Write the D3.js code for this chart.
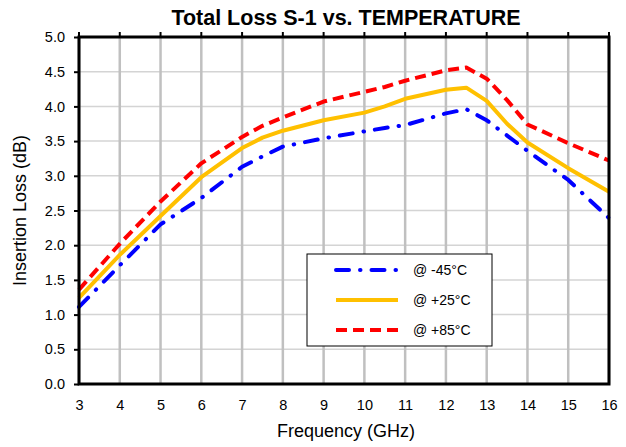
<!DOCTYPE html>
<html>
<head>
<meta charset="utf-8">
<script src="https://cdn.jsdelivr.net/npm/d3@7"></script>
<style>
  body { margin: 0; background: #fff; }
  text { font-family: "Liberation Sans", Arial, sans-serif; fill: #000; }
</style>
</head>
<body>
<div id="chart"></div>
<script>
// Chart data
const freqs = [3, 4, 5, 6, 7, 7.5, 8, 9, 10, 10.5, 11, 12, 12.5, 13, 13.5, 14, 15, 16]
const lossM45 = [1.11, 1.71, 2.30, 2.68, 3.13, 3.28, 3.42, 3.54, 3.64, 3.69, 3.73, 3.90, 3.96, 3.80, 3.58, 3.36, 2.94, 2.39]
const lossP25 = [1.24, 1.86, 2.42, 2.98, 3.40, 3.55, 3.65, 3.80, 3.91, 4.00, 4.11, 4.24, 4.27, 4.08, 3.75, 3.48, 3.11, 2.77]
const lossP85 = [1.36, 2.02, 2.63, 3.18, 3.56, 3.72, 3.84, 4.07, 4.21, 4.28, 4.37, 4.52, 4.56, 4.40, 4.09, 3.74, 3.47, 3.22]
const seriesNames = ['@ -45°C', '@ +25°C', '@ +85°C']
const xTicks = d3.range(3, 17, 1)
const yTicks = d3.range(0, 5.01, 0.5)

const width = 626
const height = 447
const margin = { top: 37, right: 17, bottom: 63, left: 79 }

const svg = d3.select('#chart')
  .append('svg')
  .attr('width', width)
  .attr('height', height)

const x = d3.scaleLinear().domain([3, 16]).range([margin.left, width - margin.right])
const y = d3.scaleLinear().domain([0, 5]).range([height - margin.bottom, margin.top])

// Gridlines
svg.append('g')
  .selectAll('line')
  .data(yTicks)
  .enter().append('line')
  .attr('x1', x(3)).attr('x2', x(16))
  .attr('y1', d => y(d)).attr('y2', d => y(d))
  .attr('stroke', '#d4d4d4')
  .attr('stroke-width', 1.5)

svg.append('g')
  .selectAll('line')
  .data(xTicks)
  .enter().append('line')
  .attr('x1', d => x(d)).attr('x2', d => x(d))
  .attr('y1', y(0)).attr('y2', y(5))
  .attr('stroke', '#c0c0c0')
  .attr('stroke-width', 2.5)

// Series
const styles = [
  { color: '#0000ff', dash: '13,11,0.5,11', cap: 'round' },
  { color: '#ffc000', dash: null, cap: 'butt' },
  { color: '#ff0000', dash: '11,6', cap: 'butt' }
]
const allSeries = [lossM45, lossP25, lossP85]
const line = d3.line()
  .x((d, i) => x(freqs[i]))
  .y(d => y(d))

allSeries.forEach((vals, k) => {
  svg.append('path')
    .datum(vals)
    .attr('d', line)
    .attr('fill', 'none')
    .attr('stroke', styles[k].color)
    .attr('stroke-width', 4)
    .attr('stroke-linecap', styles[k].cap)
    .attr('stroke-linejoin', 'round')
    .attr('stroke-dasharray', styles[k].dash)
})

// Axes frame
svg.append('rect')
  .attr('x', x(3)).attr('y', y(5))
  .attr('width', x(16) - x(3)).attr('height', y(0) - y(5))
  .attr('fill', 'none')
  .attr('stroke', '#000')
  .attr('stroke-width', 3)

// Left axis
const yAxis = svg.append('g')
  .attr('transform', `translate(${x(3)},0)`)
  .call(d3.axisLeft(y).tickValues(yTicks).tickFormat(d3.format('.1f')).tickSize(5).tickPadding(9))
yAxis.select('.domain').remove()
yAxis.selectAll('line').attr('stroke', '#000').attr('stroke-width', 2)
yAxis.selectAll('text').style('font-size', '14.5px').attr('font-family', null)

// Top ticks
svg.append('g')
  .selectAll('line')
  .data(xTicks)
  .enter().append('line')
  .attr('x1', d => x(d)).attr('x2', d => x(d))
  .attr('y1', y(5)).attr('y2', y(5) - 5)
  .attr('stroke', '#000')
  .attr('stroke-width', 2)

// Bottom labels
const xAxis = svg.append('g')
  .attr('transform', `translate(0,${y(0)})`)
  .call(d3.axisBottom(x).tickValues(xTicks).tickFormat(d3.format('d')).tickSize(0).tickPadding(16))
xAxis.select('.domain').remove()
xAxis.selectAll('text').style('font-size', '14.5px').attr('font-family', null)

// Title and axis titles
svg.append('text')
  .attr('x', 346).attr('y', 25)
  .attr('text-anchor', 'middle')
  .style('font-size', '21.5px')
  .style('font-weight', 'bold')
  .text('Total Loss S-1 vs. TEMPERATURE')

svg.append('text')
  .attr('x', 346).attr('y', 437)
  .attr('text-anchor', 'middle')
  .style('font-size', '18px')
  .text('Frequency (GHz)')

svg.append('text')
  .attr('transform', `translate(26,${(y(0) + y(5)) / 2}) rotate(-90)`)
  .attr('text-anchor', 'middle')
  .style('font-size', '18px')
  .text('Insertion Loss (dB)')

// Legend
const legend = svg.append('g').attr('transform', 'translate(307,254)')
legend.append('rect')
  .attr('width', 185).attr('height', 92)
  .attr('fill', '#fff')
  .attr('stroke', '#000')
  .attr('stroke-width', 1)

const legendItem = legend.selectAll('g.item')
  .data(seriesNames)
  .enter().append('g')
  .attr('class', 'item')
  .attr('transform', (d, i) => `translate(0,${16 + i * 30})`)

legendItem.append('line')
  .attr('x1', 29).attr('x2', 91)
  .attr('stroke', (d, i) => styles[i].color)
  .attr('stroke-width', 4)
  .attr('stroke-linecap', (d, i) => styles[i].cap)
  .attr('stroke-dasharray', (d, i) => styles[i].dash)

legendItem.append('text')
  .attr('x', 106).attr('y', 5)
  .style('font-size', '14px')
  .text(d => d)
</script>
</body>
</html>
